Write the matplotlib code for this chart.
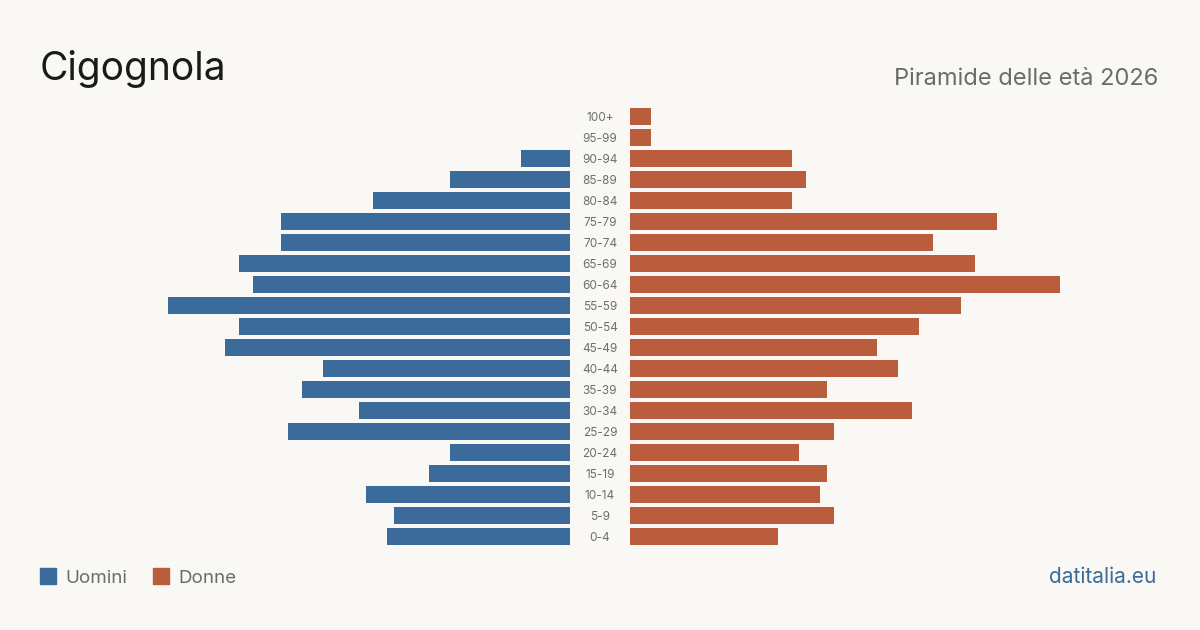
import matplotlib
matplotlib.use('Agg')
import matplotlib.pyplot as plt
import matplotlib.transforms as mtransforms
from matplotlib.patches import Rectangle

plt.rcParams['font.family'] = ['Inter', 'DejaVu Sans']

# --- Data ---
ages = ['0-4', '5-9', '10-14', '15-19', '20-24', '25-29', '30-34', '35-39',
        '40-44', '45-49', '50-54', '55-59', '60-64', '65-69', '70-74',
        '75-79', '80-84', '85-89', '90-94', '95-99', '100+']
uomini = [26, 25, 29, 20, 17, 40, 30, 38, 35, 49, 47, 57, 45, 47, 41, 41,
          28, 17, 7, 0, 0]
donne = [21, 29, 27, 28, 24, 29, 40, 28, 38, 35, 41, 47, 61, 49, 43, 52,
         23, 25, 23, 3, 3]

title = 'Cigognola'
subtitle = 'Piramide delle età 2026'
source = 'datitalia.eu'

# --- Style ---
bg = '#f9f8f4'
blue = '#3b6b9b'
orange = '#b95d3c'
W, H = 1200, 630
px_per_unit = 7.05

fig = plt.figure(figsize=(W / 100, H / 100), dpi=100, facecolor=bg)

ax_top, ax_bot = 105.8, 546.8
rect_y = 1 - ax_bot / H
rect_h = (ax_bot - ax_top) / H
axl = fig.add_axes([40 / W, rect_y, 530 / W, rect_h])
axr = fig.add_axes([630 / W, rect_y, 530 / W, rect_h])

y = list(range(len(ages)))
xmax = 530 / px_per_unit
for ax, vals, col in [(axl, uomini, blue), (axr, donne, orange)]:
    ax.barh(y, vals, height=0.8, color=col)
    ax.set_ylim(-0.5, len(ages) - 0.5)
    ax.set_facecolor('none')
    ax.axis('off')
axl.set_xlim(xmax, 0)
axr.set_xlim(0, xmax)

# age labels in the gap between the two halves (nudged down ~2px)
trans = mtransforms.blended_transform_factory(fig.transFigure, axr.transData)
nudge = mtransforms.ScaledTranslation(0, -2 / 100, fig.dpi_scale_trans)
for i, lab in enumerate(ages):
    fig.text(600 / W, i, lab, transform=trans + nudge, ha='center',
             va='center', fontsize=8.5, color='#6e6e6e')

# titles
fig.text(40 / W, 1 - 80 / H, title, fontsize=28, color='#1a1a1a',
         ha='left', va='baseline')
fig.text(1158 / W, 1 - 85 / H, subtitle, fontsize=17, color='#6b6b6b',
         ha='right', va='baseline')

# legend
for x0, col, lab in [(40, blue, 'Uomini'), (153, orange, 'Donne')]:
    fig.patches.append(Rectangle((x0 / W, 1 - 584 / H), 16 / W, 16 / H,
                                 transform=fig.transFigure, color=col))
    fig.text((x0 + 25) / W, 1 - 583 / H, lab, fontsize=13.5,
             color='#6b6b6b', ha='left', va='baseline')

fig.text(1156 / W, 1 - 583 / H, source, fontsize=15, color=blue,
         ha='right', va='baseline')

fig.savefig('out.png', dpi=100, facecolor=bg)
